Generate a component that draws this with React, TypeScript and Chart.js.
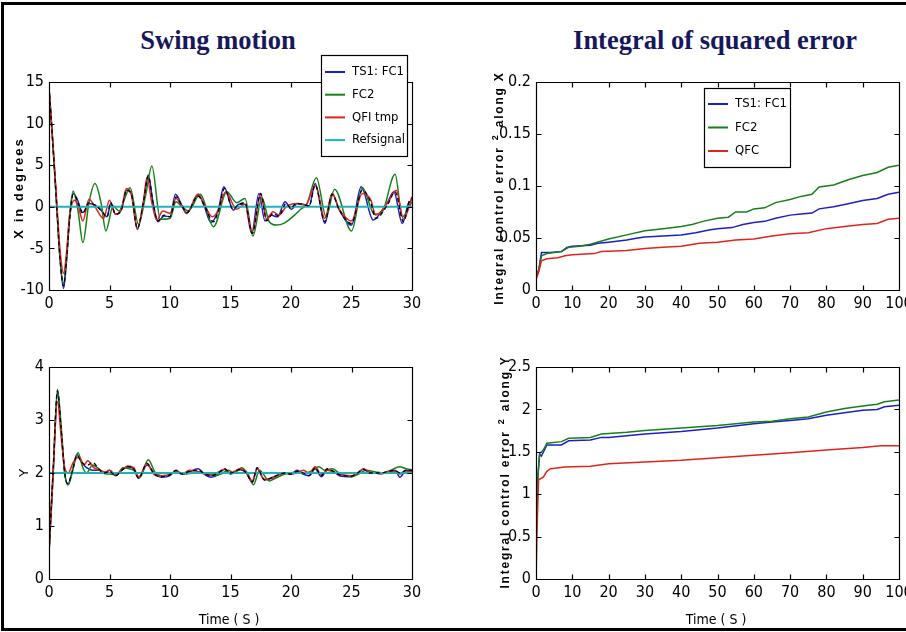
import React, { useEffect, useRef } from "react";
import { Chart, registerables } from "chart.js";
Chart.register(...registerables);

// ---------- DATA ----------
// Swing motion X (time s, degrees)
const swingX_TS1: number[][] = [[0,14.3],[0.3,8],[0.6,1],[0.9,-6],[1.2,-9.8],[1.45,-6.5],[1.7,-1.5],[2.0,1.6],[2.3,1.0],[2.8,-0.7],[3.3,0.4],[3.8,0.2],[4.3,-0.4],[4.8,-1.2],[5.1,0.4],[5.5,-0.9],[6.0,-0.3],[6.4,2.0],[6.8,1.6],[7.3,-2.7],[7.8,0.5],[8.2,3.8],[8.6,0.5],[9.0,-1.8],[9.5,-1.1],[10.0,-1.2],[10.45,1.5],[11.0,0.1],[11.35,-0.8],[11.9,0.3],[12.35,1.5],[12.8,0.2],[13.4,-1.9],[14.0,-0.3],[14.45,2.4],[15.25,-0.4],[15.7,0.3],[16.2,0.3],[16.75,-3.2],[17.35,1.6],[17.85,-1.7],[18.3,-1.0],[18.9,-1.2],[19.5,0.6],[20.05,-0.3],[20.5,0.4],[21.0,0.3],[21.5,0.1],[22.0,2.8],[22.8,-2.0],[23.4,1.6],[24.0,-0.4],[25.0,-2.2],[25.8,2.4],[26.8,-1.6],[27.5,-0.5],[28.0,0.6],[28.5,1.8],[29.2,-2.0],[29.7,0.4],[30,0.8]];
const swingX_FC2: number[][] = [[0,14.3],[0.3,8],[0.6,1],[0.9,-6],[1.2,-9.2],[1.45,-6],[1.7,-1],[2.0,1.9],[2.4,-0.5],[2.8,-4.3],[3.3,0.5],[3.8,2.8],[4.3,0.5],[4.7,-2.9],[5.3,0.1],[5.8,-0.5],[6.2,0.8],[6.7,2.3],[7.4,-2.1],[8.0,1.5],[8.5,4.9],[9.2,-1.5],[10.0,-1.4],[10.5,0.6],[11.0,0],[11.5,-0.5],[12.5,1.5],[13.6,-2.4],[14.7,1.8],[15.5,0.5],[16.2,1.0],[16.85,-3.5],[17.6,1.1],[18.2,-1.8],[18.8,-2.2],[19.4,-2.0],[20.3,-1.0],[20.8,-0.3],[21.3,0.3],[22.1,3.5],[22.9,-1.2],[23.6,2.1],[25.0,-2.9],[25.9,2.3],[26.9,-0.9],[27.5,-0.7],[28.6,3.9],[29.2,-1.2],[30,0.6]];
const swingX_QFI: number[][] = [[0,14.3],[0.3,8.2],[0.6,1.5],[0.9,-5],[1.2,-8.0],[1.45,-5.5],[1.7,-1.2],[2.1,0.8],[2.4,0.2],[2.8,-1.7],[3.3,0.9],[3.8,0],[4.5,-1.4],[5.0,0.8],[5.5,-0.9],[6.0,-0.2],[6.4,2.2],[6.8,1.5],[7.3,-2.6],[7.8,0.6],[8.1,3.5],[8.5,0.5],[8.9,-1.6],[9.4,-0.5],[10.0,-0.8],[10.5,1.0],[11.0,0],[11.4,-0.7],[12.3,1.5],[12.8,0.4],[13.5,-1.2],[14.0,-0.4],[14.6,1.8],[15.5,-0.3],[16.2,0.3],[16.8,-3.0],[17.5,1.5],[18.0,-1.6],[18.5,-0.6],[19.0,-1.0],[19.6,0.0],[20.5,0.4],[21.2,0.2],[22.0,2.6],[22.8,-1.4],[23.4,1.6],[24.0,-0.3],[25.0,-1.7],[25.9,1.6],[26.6,0.8],[27.0,-1.0],[28.0,0.5],[28.7,2.0],[29.3,-1.5],[30,1.2]];
const swingX_Dash: number[][] = [[0,14.3],[0.3,8],[0.6,1],[0.9,-6],[1.2,-9.5],[1.45,-6.3],[1.7,-1.5],[2.0,1.5],[2.3,0.9],[2.8,-0.8],[3.3,0.5],[3.8,0.2],[4.3,-0.4],[4.8,-1.2],[5.1,0.5],[5.5,-0.9],[6.0,-0.3],[6.4,2.0],[6.8,1.6],[7.3,-2.6],[7.8,0.5],[8.2,3.7],[8.6,0.5],[9.0,-1.7],[9.5,-1.0],[10.0,-1.2],[10.5,1.2],[11.0,0.1],[11.4,-0.7],[12.3,1.3],[12.8,0.3],[13.6,-1.8],[14.0,-0.5],[14.5,2.2],[15.2,-0.3],[15.6,0.2],[16.2,0.5],[16.8,-3.2],[17.5,1.6],[18.0,-1.7],[18.5,-0.8],[19.0,-1.1],[19.6,0.4],[20.0,-0.2],[20.4,0.4],[21.0,0.3],[21.5,0.1],[22.0,2.6],[22.8,-1.8],[23.4,1.5],[24.0,-0.4],[25.0,-2.0],[25.9,2.0],[26.6,0.5],[27.0,-1.4],[28.0,0.3],[28.6,1.8],[29.3,-1.8],[29.8,0.8],[30,1.0]];
const swingX_Ref: number[][] = [[0,0],[30,0]];

// Swing motion Y
const swingY_TS1: number[][] = [[0,0.5],[0.35,2.0],[0.7,3.5],[1.0,2.8],[1.3,2.0],[1.55,1.78],[1.9,2.0],[2.3,2.35],[2.7,2.2],[3.1,2.1],[3.6,2.05],[4.1,2.05],[4.6,2.0],[5.0,2.05],[5.5,1.95],[6.0,2.05],[6.5,2.12],[7.0,2.08],[7.4,1.9],[8.1,2.15],[8.7,2.0],[9.3,1.92],[10.0,1.95],[10.5,2.05],[11.0,1.98],[11.6,2.02],[12.3,2.08],[13.0,1.95],[13.4,1.92],[14.0,1.97],[14.5,2.07],[15.0,1.98],[15.8,2.06],[16.3,2.0],[16.8,1.82],[17.2,2.08],[17.8,1.87],[18.5,1.92],[19.0,1.97],[19.5,2.0],[20.0,1.98],[20.5,2.05],[21.0,1.98],[21.5,1.95],[22.0,2.08],[22.5,1.93],[23.0,2.05],[23.5,2.03],[24.0,1.95],[25.0,1.93],[25.5,2.0],[26.0,2.08],[26.5,2.0],[27.0,2.0],[27.5,2.0],[28.0,2.02],[28.6,2.05],[29.0,1.92],[29.5,2.05],[30,2.03]];
const swingY_FC2: number[][] = [[0,0.5],[0.35,2.1],[0.7,3.58],[1.0,2.9],[1.3,2.0],[1.6,1.78],[2.0,2.1],[2.4,2.38],[2.8,2.1],[3.1,2.0],[3.6,2.15],[4.0,2.1],[4.5,2.0],[5.0,1.98],[5.6,1.97],[6.1,2.1],[6.6,2.08],[7.0,2.05],[7.5,1.92],[8.2,2.25],[8.8,2.0],[9.3,1.95],[10.0,1.97],[10.5,2.03],[11.2,1.98],[12.0,2.0],[13.0,2.0],[13.5,1.95],[14.2,1.98],[14.8,2.05],[15.3,2.0],[15.9,2.1],[16.4,2.0],[16.9,1.78],[17.4,2.05],[18.2,1.85],[18.7,1.9],[19.5,1.98],[20.0,2.0],[20.6,2.02],[21.2,2.0],[21.8,2.05],[22.3,2.12],[22.8,2.05],[23.4,2.08],[24.0,2.0],[25.0,1.93],[25.6,1.98],[26.2,2.05],[27.0,2.02],[27.6,2.0],[28.2,2.05],[29.0,2.12],[29.5,2.08],[30,2.06]];
const swingY_QFI: number[][] = [[0,0.5],[0.3,1.8],[0.7,3.35],[1.0,2.7],[1.3,2.1],[1.6,2.0],[2.0,2.2],[2.5,2.3],[2.9,2.15],[3.2,2.23],[3.7,2.1],[4.2,2.05],[4.7,2.02],[5.0,2.05],[5.5,1.97],[6.0,2.05],[6.5,2.13],[7.0,2.1],[7.4,1.92],[8.1,2.18],[8.7,1.97],[9.3,1.95],[10.0,1.97],[10.5,2.03],[11.0,1.98],[11.6,2.05],[12.3,2.03],[13.0,1.97],[13.5,1.97],[14.0,2.02],[14.5,2.07],[15.0,2.0],[15.8,2.08],[16.3,2.02],[16.8,1.85],[17.2,2.08],[17.8,1.88],[18.5,1.9],[19.0,1.97],[19.5,2.0],[20.0,1.98],[20.5,2.0],[21.0,2.05],[21.5,2.0],[22.0,2.12],[22.5,1.97],[23.0,2.05],[23.5,2.02],[24.0,1.97],[25.0,1.95],[25.5,2.0],[26.0,2.07],[26.5,2.02],[27.0,2.0],[27.5,1.98],[28.0,2.03],[28.6,2.03],[29.0,1.98],[29.5,2.02],[30,2.04]];
const swingY_Dash: number[][] = [[0,0.5],[0.35,2.1],[0.7,3.55],[1.0,2.85],[1.3,2.0],[1.55,1.8],[1.95,2.05],[2.3,2.33],[2.7,2.2],[3.2,2.15],[3.6,2.2],[4.1,2.08],[4.6,2.0],[5.0,2.03],[5.5,1.95],[6.0,2.05],[6.5,2.12],[7.0,2.08],[7.4,1.9],[8.1,2.18],[8.7,1.98],[9.3,1.93],[10.0,1.97],[10.5,2.05],[11.0,1.98],[11.6,2.03],[12.3,2.05],[13.0,1.97],[13.4,1.95],[14.0,2.0],[14.5,2.08],[15.0,2.0],[15.8,2.07],[16.3,2.0],[16.8,1.83],[17.2,2.1],[17.8,1.87],[18.5,1.92],[19.0,1.97],[19.5,2.0],[20.0,1.98],[20.5,2.03],[21.0,2.0],[21.5,1.95],[22.0,2.1],[22.5,1.95],[23.0,2.08],[23.5,2.03],[24.0,1.97],[25.0,1.94],[25.5,2.0],[26.0,2.07],[26.5,2.0],[27.0,2.0],[27.5,2.0],[28.0,2.03],[28.6,2.05],[29.0,2.0],[29.5,2.05],[30,2.05]];
const swingY_Ref: number[][] = [[0,2],[30,2]];

// Integral of squared error along X
const iseX_TS1: number[][] = [[0,0.012],[0.8,0.02],[1.5,0.036],[4,0.036],[7,0.037],[8.5,0.041],[10,0.042],[15,0.043],[17,0.045],[20,0.046],[25,0.048],[28,0.05],[30,0.051],[35,0.052],[40,0.053],[44,0.055],[48,0.058],[50,0.059],[54,0.06],[57,0.063],[60,0.065],[63,0.066],[66,0.069],[70,0.072],[73,0.073],[76,0.074],[78,0.078],[82,0.08],[86,0.083],[90,0.086],[94,0.088],[97,0.092],[100,0.094]];
const iseX_FC2: number[][] = [[0,0.012],[0.8,0.02],[1.5,0.033],[3,0.035],[5,0.036],[7,0.037],[9,0.041],[12,0.042],[15,0.044],[20,0.049],[25,0.053],[30,0.057],[35,0.059],[40,0.061],[43,0.063],[46,0.066],[50,0.069],[53,0.07],[55,0.075],[58,0.075],[60,0.078],[63,0.079],[66,0.084],[70,0.087],[73,0.09],[76,0.092],[78,0.099],[82,0.101],[86,0.106],[90,0.11],[94,0.113],[97,0.118],[100,0.12]];
const iseX_QFC: number[][] = [[0,0.01],[0.8,0.018],[1.5,0.028],[3,0.03],[6,0.031],[8,0.033],[10,0.034],[16,0.035],[18,0.037],[25,0.038],[30,0.04],[35,0.041],[40,0.042],[45,0.045],[50,0.046],[55,0.048],[60,0.049],[65,0.052],[70,0.054],[75,0.055],[80,0.059],[85,0.061],[90,0.063],[94,0.064],[97,0.068],[100,0.069]];

// Integral of squared error along Y
const iseY_TS1: number[][] = [[0,0.4],[0.5,1.2],[1,1.47],[1.5,1.45],[3,1.58],[7,1.58],[9,1.63],[15,1.64],[18,1.67],[20,1.67],[25,1.69],[30,1.71],[40,1.74],[50,1.78],[60,1.83],[65,1.85],[70,1.87],[75,1.89],[80,1.93],[85,1.96],[90,1.99],[94,2.0],[96,2.03],[100,2.05]];
const iseY_FC2: number[][] = [[0,0.4],[0.5,1.2],[1,1.48],[2,1.52],[3,1.6],[7,1.62],[9,1.66],[15,1.67],[18,1.71],[25,1.73],[30,1.75],[40,1.78],[50,1.81],[60,1.85],[65,1.86],[70,1.89],[75,1.91],[80,1.97],[85,2.01],[90,2.04],[94,2.06],[96,2.09],[100,2.11]];
const iseY_QFC: number[][] = [[0,0.0],[0.3,0.6],[0.7,1.17],[2,1.2],[3,1.27],[4,1.3],[8,1.32],[15,1.33],[20,1.36],[30,1.38],[40,1.4],[50,1.43],[60,1.46],[70,1.49],[80,1.52],[90,1.55],[95,1.57],[100,1.57]];

const swingLabels = ["TS1: FC1", "FC2", "QFI tmp", "Refsignal"];
const iseLabels = ["TS1: FC1", "FC2", "QFC"];

// ---------- STYLE ----------
const BLUE = "#1e1ec8";
const GREEN = "#17801a";
const RED = "#e0241c";
const CYAN = "#1fb3b8";
const NARROW = "'Liberation Sans Narrow', 'DejaVu Sans Condensed', 'Roboto Condensed', 'Arial Narrow', 'Liberation Sans', sans-serif";

const toXY = (arr: number[][]) => arr.map((p) => ({ x: p[0], y: p[1] }));
const fmt = (v: any) => String(parseFloat(Number(v).toFixed(4)));

const boxTicksPlugin = {
  id: "boxTicks",
  afterDatasetsDraw(chart: any) {
    const { ctx, chartArea: a, scales } = chart;
    const xs = scales.x, ys = scales.y;
    const l = Math.round(a.left) + 0.5, r = Math.round(a.right) + 0.5;
    const t = Math.round(a.top) + 0.5, b = Math.round(a.bottom) + 0.5;
    ctx.save();
    ctx.strokeStyle = "#000";
    ctx.lineWidth = 1.2;
    ctx.beginPath();
    ctx.rect(l, t, r - l, b - t);
    const L = 5;
    xs.ticks.forEach((tk: any) => {
      const p = Math.round(xs.getPixelForValue(tk.value)) + 0.5;
      ctx.moveTo(p, b); ctx.lineTo(p, b - L);
      ctx.moveTo(p, t); ctx.lineTo(p, t + L);
    });
    ys.ticks.forEach((tk: any) => {
      const p = Math.round(ys.getPixelForValue(tk.value)) + 0.5;
      ctx.moveTo(l, p); ctx.lineTo(l + L, p);
      ctx.moveTo(r, p); ctx.lineTo(r - L, p);
    });
    ctx.stroke();
    ctx.restore();
  },
};

const boxLegendPlugin = {
  id: "boxLegend",
  afterDraw(chart: any, _args: any, opts: any) {
    if (!opts || !opts.show) return;
    const { ctx, chartArea: a } = chart;
    const x0 = opts.anchor === "right" ? a.right + opts.dx : a.left + opts.dx;
    const y0 = a.top + opts.dy;
    const items = chart.data.datasets.filter((d: any) => d.label);
    ctx.save();
    ctx.fillStyle = "#fff";
    ctx.fillRect(x0, y0, opts.w, opts.h);
    ctx.strokeStyle = "#000";
    ctx.lineWidth = 1.2;
    ctx.strokeRect(Math.round(x0) + 0.5, Math.round(y0) + 0.5, opts.w, opts.h);
    ctx.font = `13px ${NARROW}`;
    ctx.textBaseline = "middle";
    items.forEach((d: any, i: number) => {
      const y = y0 + opts.first + i * opts.gap;
      ctx.strokeStyle = d.borderColor;
      ctx.lineWidth = 2;
      ctx.beginPath();
      ctx.moveTo(x0 + 4, y);
      ctx.lineTo(x0 + 24, y);
      ctx.stroke();
      ctx.fillStyle = "#000";
      ctx.fillText(d.label, x0 + 31, y, opts.w - 33);
    });
    ctx.restore();
  },
};

type PlotProps = {
  box: [number, number, number, number];
  area: [number, number, number, number];
  xMax: number; xStep: number;
  yMin: number; yMax: number; yStep: number;
  datasets: any[];
  legend?: any;
  smooth?: boolean;
};

function Plot({ box, area, xMax, xStep, yMin, yMax, yStep, datasets, legend, smooth }: PlotProps) {
  const ref = useRef<HTMLCanvasElement | null>(null);
  useEffect(() => {
    const [cx, cy, cw, ch] = box;
    const [L, T, R, B] = area;
    const WY = 40, HX = 28;
    const chart = new Chart(ref.current as HTMLCanvasElement, {
      type: "line",
      data: { datasets },
      options: {
        animation: false,
        responsive: false,
        devicePixelRatio: 1,
        layout: {
          padding: { left: L - cx - WY, top: T - cy, right: cx + cw - R, bottom: cy + ch - B - HX },
        },
        elements: {
          point: { radius: 0 },
          line: { borderWidth: 1.5, tension: smooth ? 0.4 : 0, cubicInterpolationMode: smooth ? "monotone" : "default" },
        },
        plugins: {
          legend: { display: false },
          tooltip: { enabled: false },
          boxLegend: legend || { show: false },
        } as any,
        scales: {
          x: {
            type: "linear", min: 0, max: xMax,
            grid: { display: false, drawTicks: false },
            border: { display: false },
            ticks: { stepSize: xStep, autoSkip: false, maxRotation: 0, padding: 4, color: "#000", font: { family: NARROW, size: 16 }, callback: fmt },
            afterFit: (s: any) => { s.height = HX; s.paddingLeft = 0; s.paddingRight = 0; },
          },
          y: {
            type: "linear", min: yMin, max: yMax,
            grid: { display: false, drawTicks: false },
            border: { display: false },
            ticks: { stepSize: yStep, autoSkip: false, padding: 5, color: "#000", font: { family: NARROW, size: 16 }, callback: fmt },
            afterFit: (s: any) => { s.width = WY; s.paddingTop = 0; s.paddingBottom = 0; },
          },
        },
      } as any,
      plugins: [boxTicksPlugin, boxLegendPlugin],
    });
    return () => chart.destroy();
  }, []);
  return (
    <canvas
      ref={ref}
      width={box[2]}
      height={box[3]}
      style={{ position: "absolute", left: box[0], top: box[1], width: box[2], height: box[3] }}
    />
  );
}

const ds = (label: string, color: string, arr: number[][], order: number, extra: any = {}) => ({
  label, borderColor: color, backgroundColor: color, data: toXY(arr), order, fill: false, ...extra,
});

const dash = (arr: number[][]) => ({
  label: "", borderColor: "#000", data: toXY(arr), order: 0, borderDash: [4, 3], borderWidth: 1.3, fill: false,
});

const titleStyle: React.CSSProperties = {
  position: "absolute", transform: "translate(-50%, -50%)", whiteSpace: "nowrap",
  fontFamily: "'Liberation Serif', 'Times New Roman', serif", fontWeight: "bold", fontSize: 26.5, color: "#17175c",
};

const rotLabel = (cx: number, cy: number, extra: React.CSSProperties = {}): React.CSSProperties => ({
  position: "absolute", left: cx, top: cy, transform: "translate(-50%, -50%) rotate(-90deg)", whiteSpace: "nowrap",
  fontFamily: "'Liberation Sans', Arial, sans-serif", color: "#000", lineHeight: 1, ...extra,
});

const timeStyle = (cx: number, cy: number): React.CSSProperties => ({
  position: "absolute", left: cx, top: cy, transform: "translate(-50%, -50%)", whiteSpace: "nowrap",
  fontFamily: NARROW, fontSize: 14, color: "#000", lineHeight: 1,
});

export default function App() {
  const supStyle: React.CSSProperties = { fontSize: 9, position: "relative", top: -5, margin: "0 1px" };
  return (
    <div style={{ position: "absolute", left: 0, top: 0, width: 906, height: 632, background: "#fff", overflow: "hidden" }}>
      {/* outer frame */}
      <div style={{ position: "absolute", left: 1, top: 2, width: 905, height: 3, background: "#000" }} />
      <div style={{ position: "absolute", left: 1, top: 2, width: 3, height: 629, background: "#000" }} />
      <div style={{ position: "absolute", left: 1, top: 628, width: 905, height: 3, background: "#000" }} />

      <div style={{ ...titleStyle, left: 218, top: 40 }}>Swing motion</div>
      <div style={{ ...titleStyle, left: 715, top: 40 }}>Integral of squared error</div>

      <Plot
        box={[0, 40, 450, 290]} area={[49, 82, 412, 290]}
        xMax={30} xStep={5} yMin={-10} yMax={15} yStep={5} smooth
        datasets={[
          ds(swingLabels[0], BLUE, swingX_TS1, 4),
          ds(swingLabels[1], GREEN, swingX_FC2, 3),
          ds(swingLabels[2], RED, swingX_QFI, 2),
          ds(swingLabels[3], CYAN, swingX_Ref, 1, { borderWidth: 2 }),
          dash(swingX_Dash),
        ]}
        legend={{ show: true, anchor: "right", dx: -91, dy: -27, w: 86, h: 101, first: 17, gap: 22.7 }}
      />
      <Plot
        box={[450, 40, 456, 290]} area={[536, 82, 899, 290]}
        xMax={100} xStep={10} yMin={0} yMax={0.2} yStep={0.05}
        datasets={[
          ds(iseLabels[0], BLUE, iseX_TS1, 3),
          ds(iseLabels[1], GREEN, iseX_FC2, 2),
          ds(iseLabels[2], RED, iseX_QFC, 1),
        ]}
        legend={{ show: true, anchor: "left", dx: 168, dy: 6, w: 86, h: 79, first: 16, gap: 23.5 }}
      />
      <Plot
        box={[0, 340, 450, 290]} area={[49, 367, 412, 579]}
        xMax={30} xStep={5} yMin={0} yMax={4} yStep={1} smooth
        datasets={[
          ds(swingLabels[0], BLUE, swingY_TS1, 4),
          ds(swingLabels[1], GREEN, swingY_FC2, 3),
          ds(swingLabels[2], RED, swingY_QFI, 2),
          ds(swingLabels[3], CYAN, swingY_Ref, 1, { borderWidth: 2 }),
          dash(swingY_Dash),
        ]}
      />
      <Plot
        box={[450, 340, 456, 290]} area={[536, 367, 899, 579]}
        xMax={100} xStep={10} yMin={0} yMax={2.5} yStep={0.5}
        datasets={[
          ds(iseLabels[0], BLUE, iseY_TS1, 3),
          ds(iseLabels[1], GREEN, iseY_FC2, 2),
          ds(iseLabels[2], RED, iseY_QFC, 1),
        ]}
      />

      <div style={rotLabel(18, 188, { fontSize: 13, fontWeight: "bold", letterSpacing: 2 })}>X in degrees</div>
      <div style={rotLabel(23, 473, { fontSize: 13 })}>Y</div>
      <div style={rotLabel(499, 188, { fontSize: 12, fontWeight: "bold", letterSpacing: 1.8 })}>
        Integral control error <span style={supStyle}>2</span> along X
      </div>
      <div style={rotLabel(505, 472, { fontSize: 12, fontWeight: "bold", letterSpacing: 1.8 })}>
        Integral control error <span style={supStyle}>2</span> along Y
      </div>
      <div style={timeStyle(229, 619)}>Time ( S )</div>
      <div style={timeStyle(716, 619)}>Time ( S )</div>
    </div>
  );
}
